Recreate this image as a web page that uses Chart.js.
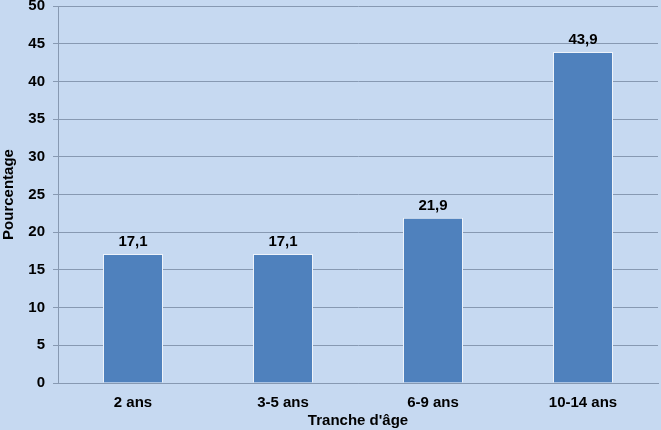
<!DOCTYPE html>
<html><head><meta charset="utf-8">
<script src="https://cdn.jsdelivr.net/npm/chart.js@4/dist/chart.umd.min.js"></script>
<style>
html,body{margin:0;padding:0;background:#C6D9F1;}
#wrap{width:661px;height:430px;}
</style></head>
<body><div id="wrap"><canvas id="c" width="661" height="430"></canvas></div>
<script>
const categories = ["2 ans", "3-5 ans", "6-9 ans", "10-14 ans"];
const values = [17.1, 17.1, 21.9, 43.9];
const yTicks = [0, 5, 10, 15, 20, 25, 30, 35, 40, 45, 50];
const xTitle = "Tranche d'âge";
const yTitle = "Pourcentage";

const FONT = "'Liberation Sans', Arial, sans-serif";

const valueLabels = {
  id: 'valueLabels',
  afterDatasetsDraw(chart) {
    const ctx = chart.ctx;
    const meta = chart.getDatasetMeta(0);
    ctx.save();
    ctx.font = "bold 15px " + FONT;
    ctx.fillStyle = "#000";
    ctx.textAlign = "center";
    ctx.textBaseline = "bottom";
    meta.data.forEach((bar, i) => {
      ctx.fillText(values[i].toFixed(1).replace('.', ','), bar.x, bar.y - 5);
    });
    ctx.restore();
  }
};

new Chart(document.getElementById('c'), {
  type: 'bar',
  data: {
    labels: categories,
    datasets: [{
      data: values,
      backgroundColor: '#4F81BD',
      borderColor: '#EEF3FA',
      borderWidth: 1,
      categoryPercentage: 1,
      barPercentage: 0.4
    }]
  },
  options: {
    responsive: false,
    animation: false,
    events: [],
    layout: { padding: { top: 6, right: 3, left: 0, bottom: 0 } },
    plugins: { legend: { display: false }, tooltip: { enabled: false } },
    scales: {
      x: {
        grid: { display: false, drawTicks: false },
        border: { display: true, color: '#8799B2', width: 1 },
        ticks: { color: '#000', font: { family: FONT, size: 15, weight: 'bold' }, padding: 11 },
        title: { display: true, text: xTitle, color: '#000', font: { family: FONT, size: 15, weight: 'bold' }, padding: { top: 1, bottom: 0 } },
        afterFit(s) { s.height = 47; s.paddingLeft = 0; s.paddingRight = 0; }
      },
      y: {
        min: 0, max: 50,
        afterBuildTicks(s) { s.ticks = yTicks.map(v => ({ value: v })); },
        grid: { color: '#8799B2', lineWidth: 1, tickLength: 5, drawTicks: true },
        border: { display: true, color: '#8799B2', width: 1 },
        ticks: { color: '#000', font: { family: FONT, size: 15, weight: 'bold' }, padding: 8 },
        title: { display: true, text: yTitle, color: '#000', font: { family: FONT, size: 15, weight: 'bold' }, padding: { top: 0, bottom: 2 } },
        afterFit(s) { s.width = 58; s.paddingTop = 0; s.paddingBottom = 0; }
      }
    }
  },
  plugins: [valueLabels]
});
</script></body></html>
